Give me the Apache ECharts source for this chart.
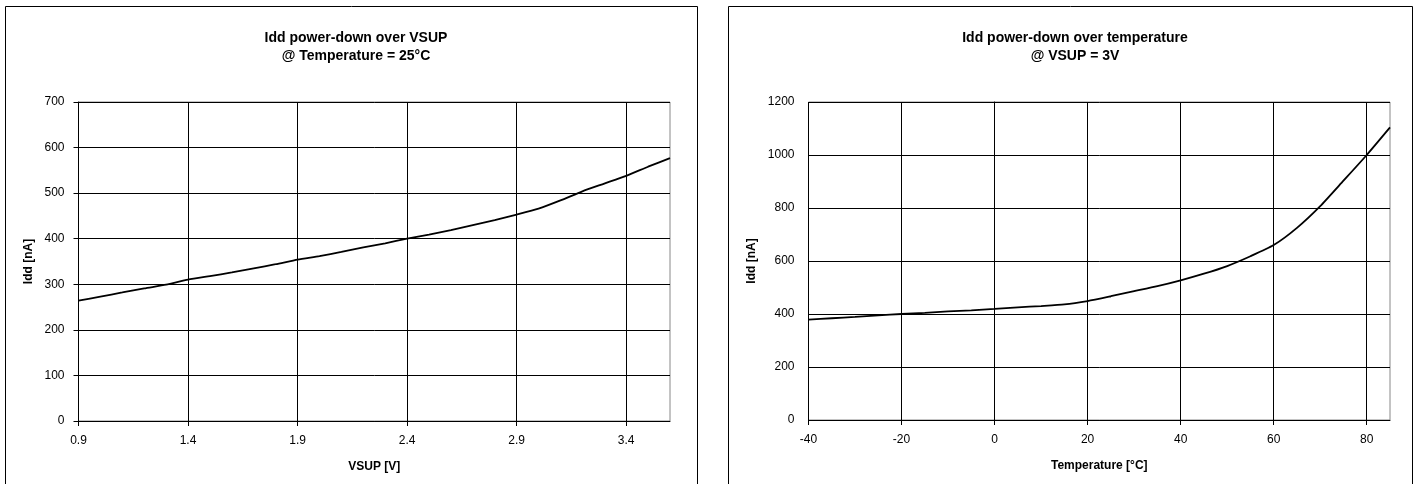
<!DOCTYPE html>
<html>
<head>
<meta charset="utf-8">
<script src="https://cdn.jsdelivr.net/npm/echarts@6/dist/echarts.min.js"></script>
<style>
  html, body { margin: 0; padding: 0; background: #fff; }
  #chart { width: 1417px; height: 484px; }
</style>
</head>
<body>
<div id="chart"></div>
<script>
// Idd power-down over VSUP @ 25°C
const vsupValues = [0.9, 1.0, 1.1, 1.2, 1.3, 1.4, 1.5, 1.6, 1.7, 1.8, 1.9, 2.0, 2.1, 2.2,
  2.3, 2.4, 2.5, 2.6, 2.7, 2.8, 2.9, 3.0, 3.1, 3.2, 3.3, 3.4, 3.5, 3.6]
const iddOverVsup = [264, 273, 282, 291, 299, 310, 318, 326, 335, 344, 354, 362, 371, 381,
  390, 400, 409, 419, 430, 441, 453, 466, 484, 504, 521, 538, 558, 577]
const vsupTicks = [0.9, 1.4, 1.9, 2.4, 2.9, 3.4]

// Idd power-down over temperature @ VSUP = 3V
const tempValues = [-40, -35, -30, -25, -20, -15, -10, -5, 0, 5, 10, 15, 20, 25, 30, 35,
  40, 45, 50, 55, 60, 65, 70, 75, 80, 85]
const iddOverTemp = [379, 384, 389, 395, 400, 404, 410, 414, 419, 425, 430, 436, 449, 467,
  486, 505, 527, 552, 581, 618, 660, 725, 807, 903, 1000, 1104]
const tempTicks = [-40, -20, 0, 20, 40, 60, 80]

const FONT = '"Liberation Sans", Arial, sans-serif'

const chart = echarts.init(document.getElementById('chart'))

function xAxisOf(gridIndex, min, max, ticks, name) {
  return {
    type: 'value',
    gridIndex: gridIndex,
    min: min,
    max: max,
    name: name,
    nameLocation: 'middle',
    nameGap: 40,
    nameTextStyle: { color: '#000', fontFamily: FONT, fontSize: 12, fontWeight: 'bold' },
    axisLine: { show: true, onZero: false, lineStyle: { color: '#000', width: 1 } },
    axisTick: { show: true, length: 5, customValues: ticks, lineStyle: { color: '#000' } },
    axisLabel: { customValues: ticks, color: '#000', fontFamily: FONT, fontSize: 12, margin: 14 },
    splitLine: { show: true, lineStyle: { color: '#000', width: 1 } }
  }
}

function yAxisOf(gridIndex, max, interval, nameGap) {
  return {
    type: 'value',
    gridIndex: gridIndex,
    min: 0,
    max: max,
    interval: interval,
    name: 'Idd [nA]',
    nameLocation: 'middle',
    nameGap: nameGap,
    nameTextStyle: { color: '#000', fontFamily: FONT, fontSize: 12, fontWeight: 'bold' },
    axisLine: { show: true, lineStyle: { color: '#000', width: 1 } },
    axisTick: { show: true, length: 5, lineStyle: { color: '#000' } },
    axisLabel: { color: '#000', fontFamily: FONT, fontSize: 12, margin: 14, formatter: v => String(v) },
    splitLine: { show: true, lineStyle: { color: '#000', width: 1 } }
  }
}

const option = {
  animation: false,
  backgroundColor: '#fff',
  graphic: [
    { type: 'rect', shape: { x: 5.5, y: 6.5, width: 692, height: 490 },
      style: { fill: 'none', stroke: '#000', lineWidth: 1 }, silent: true },
    { type: 'rect', shape: { x: 728.5, y: 6.5, width: 684, height: 490 },
      style: { fill: 'none', stroke: '#000', lineWidth: 1 }, silent: true }
  ],
  title: [
    {
      text: 'Idd power-down over VSUP\n@ Temperature = 25°C',
      left: 351, top: 24, textAlign: 'center',
      textStyle: { fontFamily: FONT, fontSize: 14, fontWeight: 'bold', color: '#000', lineHeight: 18 }
    },
    {
      text: 'Idd power-down over temperature\n@ VSUP = 3V',
      left: 1070, top: 24, textAlign: 'center',
      textStyle: { fontFamily: FONT, fontSize: 14, fontWeight: 'bold', color: '#000', lineHeight: 18 }
    }
  ],
  grid: [
    { left: 78.5, top: 102, width: 591.5, height: 319, show: true, borderColor: '#888', borderWidth: 1 },
    { left: 808.5, top: 102, width: 581.5, height: 318, show: true, borderColor: '#888', borderWidth: 1 }
  ],
  xAxis: [
    xAxisOf(0, 0.9, 3.6, vsupTicks, 'VSUP [V]'),
    xAxisOf(1, -40, 85, tempTicks, 'Temperature [°C]')
  ],
  yAxis: [
    yAxisOf(0, 700, 100, 44),
    yAxisOf(1, 1200, 200, 51)
  ],
  series: [
    {
      type: 'line', xAxisIndex: 0, yAxisIndex: 0,
      data: vsupValues.map((v, i) => [v, iddOverVsup[i]]),
      showSymbol: false, smooth: 0.2,
      lineStyle: { color: '#000', width: 1.8 }
    },
    {
      type: 'line', xAxisIndex: 1, yAxisIndex: 1,
      data: tempValues.map((v, i) => [v, iddOverTemp[i]]),
      showSymbol: false, smooth: 0.2,
      lineStyle: { color: '#000', width: 1.8 }
    }
  ]
}

chart.setOption(option)
</script>
</body>
</html>
